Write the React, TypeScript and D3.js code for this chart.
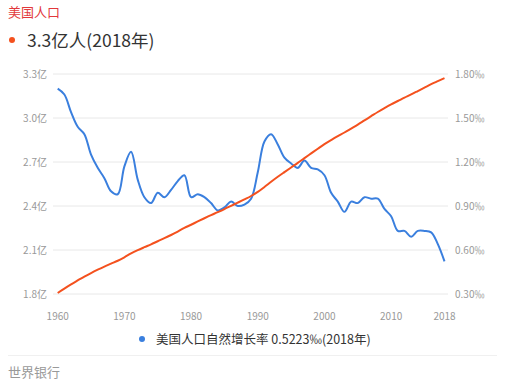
import React, { useEffect } from "react";
import * as d3 from "d3";

// World Bank series, USA
const years = d3.range(1960, 2019);
const population = [
  180.67, 183.69, 186.54, 189.24, 191.89, 194.3, 196.56, 198.71, 200.71, 202.68,
  205.05, 207.66, 209.9, 211.91, 213.85, 215.97, 218.04, 220.24, 222.59, 225.06,
  227.23, 229.47, 231.66, 233.79, 235.82, 237.92, 240.13, 242.29, 244.5, 246.82,
  249.62, 252.98, 256.51, 259.92, 263.13, 266.28, 269.39, 272.66, 275.85, 279.04,
  282.16, 284.97, 287.63, 290.11, 292.81, 295.52, 298.38, 301.23, 304.09, 306.77,
  309.33, 311.58, 313.87, 316.06, 318.39, 320.74, 323.07, 325.15, 327.17,
]; // millions
const growth = [
  1.7, 1.66, 1.54, 1.44, 1.39, 1.25, 1.16, 1.09, 1.0, 0.98,
  1.17, 1.27, 1.08, 0.96, 0.92, 0.99, 0.96, 1.01, 1.07, 1.11,
  0.96, 0.98, 0.96, 0.92, 0.87, 0.89, 0.93, 0.9, 0.91, 0.95,
  1.13, 1.34, 1.39, 1.32, 1.23, 1.19, 1.16, 1.21, 1.16, 1.15,
  1.11, 0.99, 0.93, 0.86, 0.93, 0.92, 0.96, 0.95, 0.95, 0.88,
  0.83, 0.73, 0.73, 0.69, 0.73, 0.73, 0.72, 0.64, 0.5223,
];
const leftTicks = [1.8, 2.1, 2.4, 2.7, 3.0, 3.3];
const rightTicks = [0.3, 0.6, 0.9, 1.2, 1.5, 1.8];
const xTicks = [1960, 1970, 1980, 1990, 2000, 2010, 2018];

const title = "美国人口";
const headline = "3.3亿人(2018年)";
const legendText = "美国人口自然增长率 0.5223‰(2018年)";
const source = "世界银行";

const font = "'Noto Sans CJK SC', 'Noto Sans', sans-serif";
const blue = "#3a7fde";
const orange = "#f4511e";

export default function App() {
  useEffect(() => {
    document.body.style.margin = "0";
  }, []);

  const width = 509;
  const height = 388;
  const plot = { left: 53, right: 448, top: 74, bottom: 294 };

  const x = d3.scaleLinear().domain([1960, 2018]).range([57.7, 444.5]);
  const yL = d3.scaleLinear().domain([1.8, 3.3]).range([plot.bottom, plot.top]);
  const yR = d3.scaleLinear().domain([0.3, 1.8]).range([plot.bottom, plot.top]);

  const popLine = d3
    .line<number>()
    .x((_, i) => x(years[i]))
    .y((d) => yL(d / 100))
    .curve(d3.curveMonotoneX);
  const growthLine = d3
    .line<number>()
    .x((_, i) => x(years[i]))
    .y((d) => yR(d))
    .curve(d3.curveCatmullRom.alpha(0.5));

  return (
    <svg width={width} height={height} style={{ display: "block", fontFamily: font }}>
      <rect width={width} height={height} fill="#fff" />
      <text x={8} y={17} fontSize={13} fill="#e2383b">{title}</text>
      <circle cx={12} cy={40} r={3} fill={orange} />
      <text x={27} y={47} fontSize={17.5} fill="#333">{headline}</text>

      {leftTicks.map((t) => (
        <g key={t}>
          <line x1={plot.left} x2={plot.right} y1={yL(t)} y2={yL(t)} stroke="#e8e8e8" />
          <text x={47} y={yL(t) + 3.5} fontSize={10} fill="#999" textAnchor="end">
            {t.toFixed(1)}亿
          </text>
        </g>
      ))}
      {rightTicks.map((t) => (
        <text key={t} x={455} y={yR(t) + 3.5} fontSize={10} fill="#999">
          {t.toFixed(2)}‰
        </text>
      ))}
      {xTicks.map((t) => (
        <text key={t} x={x(t)} y={320} fontSize={10} fill="#999" textAnchor="middle">
          {t}
        </text>
      ))}

      <path d={growthLine(growth) ?? ""} fill="none" stroke={blue} strokeWidth={2} />
      <path d={popLine(population) ?? ""} fill="none" stroke={orange} strokeWidth={2} />

      <circle cx={142} cy={339} r={3} fill={blue} />
      <text x={156} y={344} fontSize={12.5} fill="#333">{legendText}</text>
      <line x1={8} x2={497} y1={355.5} y2={355.5} stroke="#f0f0f0" />
      <text x={8} y={377} fontSize={13} fill="#999">{source}</text>
    </svg>
  );
}
